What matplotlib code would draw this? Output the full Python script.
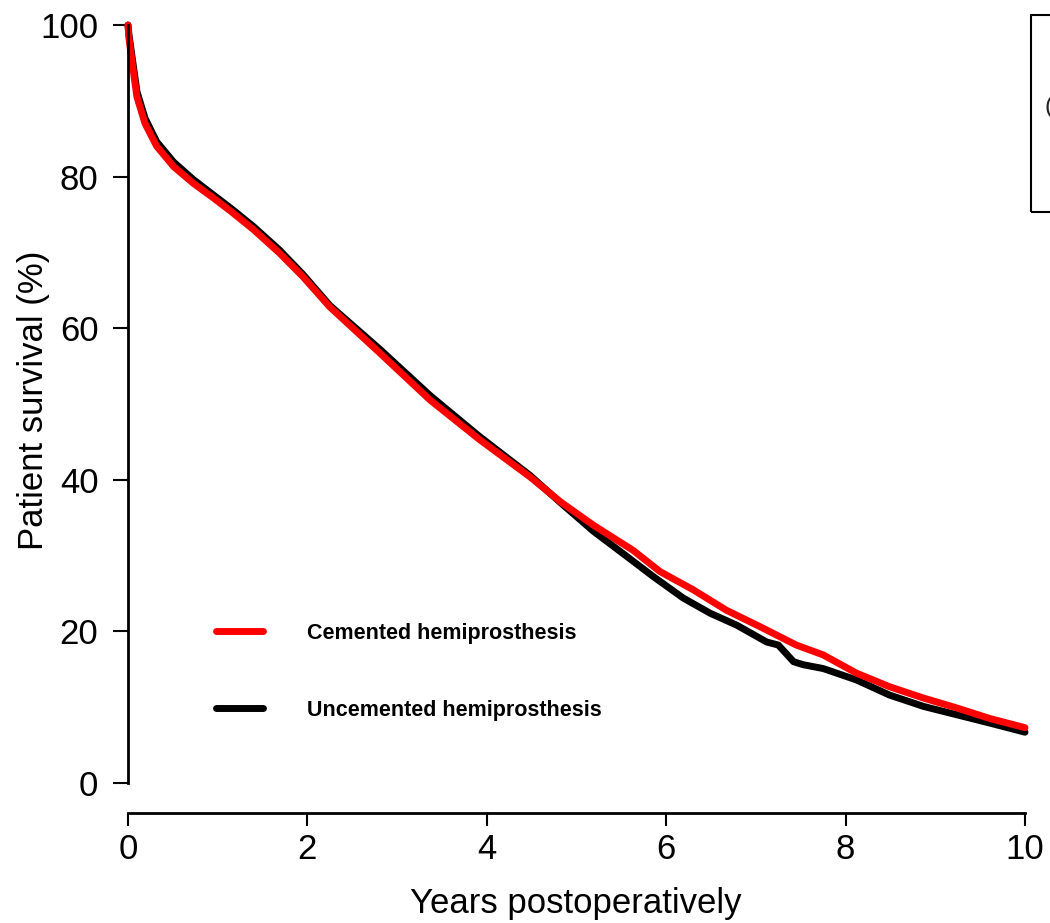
import matplotlib
matplotlib.use('Agg')
import matplotlib.pyplot as plt
from matplotlib.patches import Rectangle

plt.rcParams['font.family'] = ['Liberation Sans', 'DejaVu Sans']

# ---- data ----
years_cem = [0, 0.01, 0.05, 0.10, 0.19, 0.32, 0.51, 0.73, 0.95, 1.16, 1.40, 1.69, 1.95,
             2.25, 2.81, 3.37, 3.92, 4.48, 4.82, 5.19, 5.63, 5.93, 6.30, 6.67,
             7.05, 7.45, 7.75, 8.12, 8.49, 8.87, 9.24, 9.61, 10.0]
surv_cem = [100, 98.3, 94.7, 90.5, 87.0, 84.0, 81.3, 79.1, 77.2, 75.3, 73.0, 69.9, 66.8,
            62.8, 56.7, 50.5, 45.3, 40.4, 37.1, 34.0, 30.7, 27.9, 25.5, 22.8,
            20.6, 18.2, 16.9, 14.5, 12.7, 11.2, 9.9, 8.5, 7.3]

years_unc = [0, 0.01, 0.05, 0.10, 0.19, 0.32, 0.51, 0.73, 0.95, 1.16, 1.40, 1.69, 1.95,
             2.25, 2.81, 3.37, 3.92, 4.48, 4.82, 5.19, 5.56, 5.86, 6.19, 6.49,
             6.79, 7.12, 7.25, 7.42, 7.53, 7.75, 8.12, 8.49, 8.87, 9.24, 9.61, 10.0]
surv_unc = [100, 98.8, 95.4, 91.2, 87.7, 84.6, 81.9, 79.6, 77.6, 75.7, 73.4, 70.3, 67.1,
            63.0, 57.2, 51.1, 45.7, 40.6, 37.0, 33.2, 29.9, 27.2, 24.4, 22.4,
            20.8, 18.6, 18.2, 16.0, 15.6, 15.1, 13.6, 11.6, 10.1, 9.0, 7.9, 6.7]

labels = ['Cemented hemiprosthesis', 'Uncemented hemiprosthesis']
xticks = [0, 2, 4, 6, 8, 10]
yticks = [0, 20, 40, 60, 80, 100]
xlabel = 'Years postoperatively'
ylabel = 'Patient survival (%)'

W, H = 1050, 923
fig = plt.figure(figsize=(W / 100, H / 100), dpi=100)
ax = fig.add_axes([128 / W, 1 - 783 / H, (1025 - 128) / W, (783 - 25) / H])

l_unc, = ax.plot(years_unc, surv_unc, color='black', lw=5, clip_on=False,
                 solid_capstyle='round', solid_joinstyle='round')
l_cem, = ax.plot(years_cem, surv_cem, color='#ff0000', lw=5, clip_on=False,
                 solid_capstyle='round', solid_joinstyle='round')

ax.set_xlim(0, 10)
ax.set_ylim(0, 100)
ax.set_xticks(xticks)
ax.set_yticks(yticks)
ax.set_xticklabels([str(v) for v in xticks])
ax.set_yticklabels([str(v) for v in yticks])

for s in ['top', 'right']:
    ax.spines[s].set_visible(False)
ax.spines['left'].set_linewidth(2)
ax.spines['bottom'].set_linewidth(2)
ax.spines['bottom'].set_position(('outward', 21.6))
ax.spines['left'].set_bounds(0, 100)
ax.spines['bottom'].set_bounds(0, 10)

ax.tick_params(axis='y', direction='out', length=10.8, width=1.5, labelsize=25, pad=10.5)
ax.tick_params(axis='x', direction='out', length=9.4, width=1.5, labelsize=25, pad=5)

ax.set_xlabel(xlabel, fontsize=25)
ax.set_ylabel(ylabel, fontsize=25)
ax.xaxis.set_label_coords(576 / W, 1 - 887 / H, transform=fig.transFigure)
ax.yaxis.set_label_coords(50 / W, 1 - 400 / H, transform=fig.transFigure)

leg = ax.legend([l_cem, l_unc], labels, loc='upper left',
                bbox_to_anchor=(215.5 / W, 1 - 623 / H), bbox_transform=fig.transFigure,
                frameon=False, borderpad=0, borderaxespad=0,
                handlelength=2.19, handletextpad=2.07, labelspacing=2.6,
                prop={'weight': 'bold', 'size': 15.5})
for h in leg.legend_handles:
    h.set_linewidth(5)
    h.set_solid_capstyle('round')

# partially visible framed box at the top right edge
fig.patches.append(Rectangle((1031 / W, 1 - 212 / H), 0.1, (212 - 15) / H,
                             transform=fig.transFigure, fill=False,
                             edgecolor='black', lw=1.5))
fig.text(1044 / W, 1 - 107 / H, '(', fontsize=17, va='center', ha='left', color='#222222')

fig.savefig('out.png', dpi=100)
